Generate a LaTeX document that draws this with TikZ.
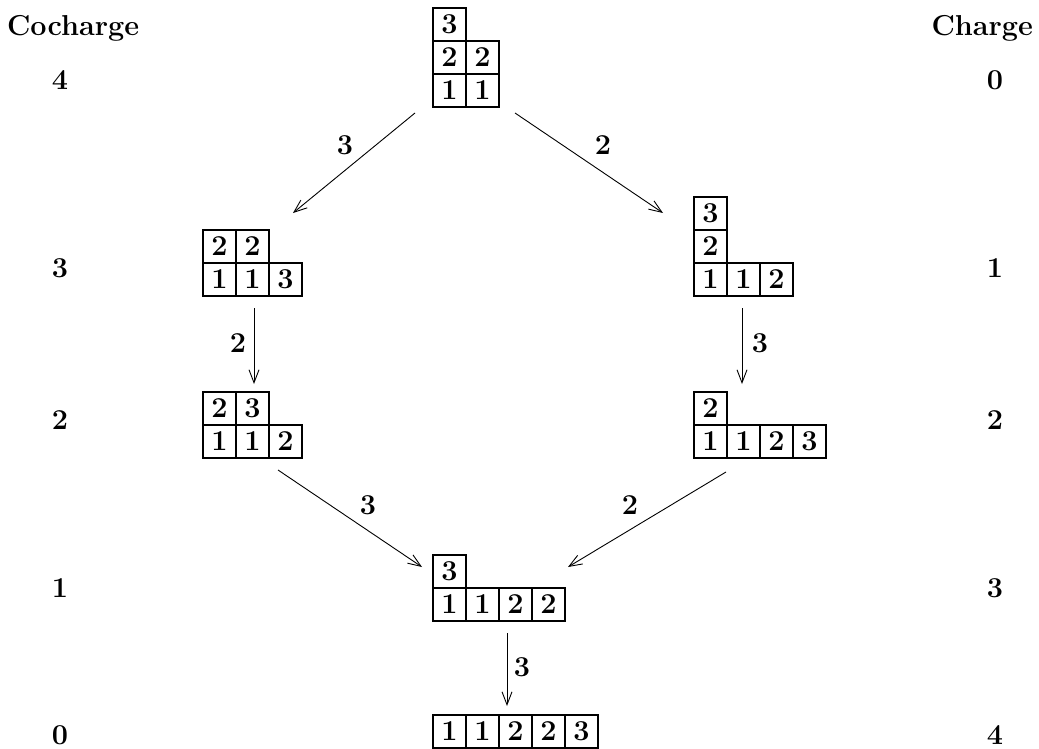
\documentclass[tikz,border=0pt]{standalone}
\usepackage{tikz}
\usetikzlibrary{arrows.meta,positioning}

\begin{document}
\begin{tikzpicture}[x=0.5pt,y=-0.5pt,every node/.style={font=\Large\bfseries}]
\tikzstyle{cell}=[draw,line width=0.55pt,minimum size=16.5pt,inner sep=0pt]
\tikzstyle{arr}=[-{Straight Barb[length=6.5pt,width=5pt]},line width=0.45pt]
\tikzstyle{lbl}=[inner sep=1pt]
\useasboundingbox (0,0) rectangle (1039,749);
% side columns
\node[anchor=west] (coch) at (0,28) {Cocharge};
\node[anchor=east] (ch) at (1040,28) {Charge};
\foreach \y/\c/\k [count=\i] in {80/4/0,268/3/1,420/2/2,588/1/3,735/0/4}{
  \node (co\i) at (60,\y) {\c};
  \node (cr\i) at (995,\y) {\k};
}
% tableaux
\foreach \x/\y/\d [count=\i] in {449.5/24.5/3,449.5/57.5/2,482.5/57.5/2,449.5/90.5/1,482.5/90.5/1}
  \node[cell] (top\i) at (\x,\y) {\d};
\foreach \x/\y/\d [count=\i] in {219.5/246.5/2,252.5/246.5/2,219.5/279.5/1,252.5/279.5/1,285.5/279.5/3}
  \node[cell] (ul\i) at (\x,\y) {\d};
\foreach \x/\y/\d [count=\i] in {710.5/213.5/3,710.5/246.5/2,710.5/279.5/1,743.5/279.5/1,776.5/279.5/2}
  \node[cell] (ur\i) at (\x,\y) {\d};
\foreach \x/\y/\d [count=\i] in {219.5/408.5/2,252.5/408.5/3,219.5/441.5/1,252.5/441.5/1,285.5/441.5/2}
  \node[cell] (ml\i) at (\x,\y) {\d};
\foreach \x/\y/\d [count=\i] in {710.5/408.5/2,710.5/441.5/1,743.5/441.5/1,776.5/441.5/2,809.5/441.5/3}
  \node[cell] (mr\i) at (\x,\y) {\d};
\foreach \x/\y/\d [count=\i] in {449.5/571.5/3,449.5/604.5/1,482.5/604.5/1,515.5/604.5/2,548.5/604.5/2}
  \node[cell] (lo\i) at (\x,\y) {\d};
\foreach \x/\d [count=\i] in {449.5/1,482.5/1,515.5/2,548.5/2,581.5/3}
  \node[cell] (bot\i) at (\x,731.5) {\d};
% arrow ends
\coordinate (a1) at (415,113); \coordinate (b1) at (293,213);
\coordinate (a2) at (515,113); \coordinate (b2) at (663,213);
\coordinate (a3) at (254,308); \coordinate (b3) at (254,384);
\coordinate (a4) at (742,308); \coordinate (b4) at (742,384);
\coordinate (a5) at (278,470); \coordinate (b5) at (422,567);
\coordinate (a6) at (726,472); \coordinate (b6) at (568,567);
\coordinate (a7) at (507,633); \coordinate (b7) at (507,706);
\draw[arr] (a1)--(b1);
\draw[arr] (a2)--(b2);
\draw[arr] (a3)--(b3);
\draw[arr] (a4)--(b4);
\draw[arr] (a5)--(b5);
\draw[arr] (a6)--(b6);
\draw[arr] (a7)--(b7);
\node[lbl] (l1) at (345,145) {3};
\node[lbl] (l2) at (603,145) {2};
\node[lbl] (l3) at (238,343) {2};
\node[lbl] (l4) at (760,343) {3};
\node[lbl] (l5) at (368,505) {3};
\node[lbl] (l6) at (630,505) {2};
\node[lbl] (l7) at (522,667) {3};
\end{tikzpicture}
\end{document}
